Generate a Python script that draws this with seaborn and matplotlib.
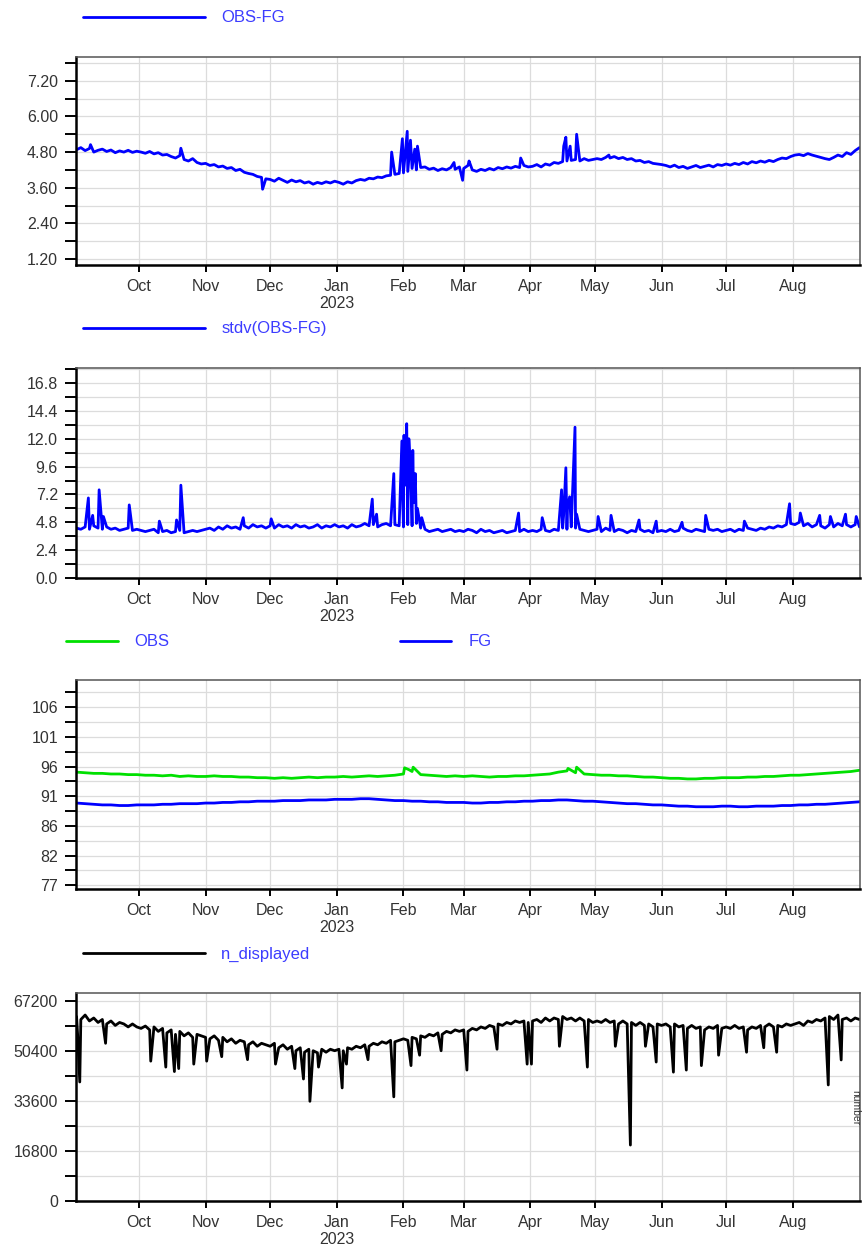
import numpy as np
import pandas as pd
import matplotlib
matplotlib.use("Agg")
import matplotlib.pyplot as plt
import matplotlib.ticker as mticker
import seaborn as sns

# ── DATA (2-day / 4-day sampling plus spikes) ──────────────────────────────
grid2 = pd.date_range("2022-09-02", periods=183, freq="2D")
grid4 = pd.date_range("2022-09-02", periods=92, freq="4D")

omb_mean = [
    4.88, 4.95, 4.85, 4.92, 4.80, 4.86, 4.90, 4.82, 4.87, 4.78, 4.84, 4.80, 4.86, 4.79, 4.83,
    4.80, 4.76, 4.82, 4.74, 4.78, 4.70, 4.72, 4.65, 4.60, 4.68, 4.55, 4.50, 4.58, 4.45, 4.40,
    4.42, 4.35, 4.38, 4.30, 4.33, 4.25, 4.28, 4.18, 4.22, 4.12, 4.08, 4.05, 3.98, 3.95, 3.90,
    3.88, 3.82, 3.92, 3.85, 3.78, 3.86, 3.80, 3.84, 3.76, 3.80, 3.72, 3.78, 3.74, 3.80, 3.76, 3.82,
    3.78, 3.72, 3.80, 3.76, 3.84, 3.88, 3.85, 3.92, 3.90, 3.96, 3.94, 4.00, 4.02, 4.05, 4.08,
    4.10, 4.15, 4.25, 4.20, 4.28, 4.30, 4.22, 4.26, 4.18, 4.24, 4.20, 4.28, 4.22, 4.30,
    4.25, 4.35, 4.20, 4.15, 4.22, 4.18, 4.25, 4.20, 4.28, 4.24, 4.30, 4.26, 4.32, 4.28, 4.35, 4.30,
    4.32, 4.38, 4.30, 4.40, 4.36, 4.45, 4.42, 4.48, 4.50, 4.52, 4.55, 4.50, 4.58, 4.52, 4.55,
    4.58, 4.55, 4.62, 4.60, 4.65, 4.58, 4.62, 4.55, 4.58, 4.50, 4.52, 4.45, 4.48, 4.42, 4.40,
    4.38, 4.35, 4.30, 4.36, 4.28, 4.32, 4.25, 4.30, 4.35, 4.28, 4.32, 4.36, 4.30, 4.38, 4.35,
    4.40, 4.36, 4.42, 4.38, 4.45, 4.40, 4.48, 4.44, 4.50, 4.46, 4.52, 4.48, 4.55, 4.60, 4.58, 4.65,
    4.70, 4.72, 4.68, 4.75, 4.70, 4.66, 4.62, 4.58, 4.55, 4.62, 4.70, 4.65, 4.78, 4.72, 4.85,
    4.95,
]
omb_spike_dates = [
    "2022-09-08 12:00", "2022-10-20 12:00", "2022-11-27 12:00", "2023-01-26 12:00",
    "2023-01-31 12:00", "2023-02-02 06:00", "2023-02-02 18:00", "2023-02-04 06:00",
    "2023-02-06 06:00", "2023-02-07 12:00", "2023-02-24 12:00", "2023-02-28 12:00",
    "2023-03-03 12:00", "2023-03-27 12:00", "2023-04-16 12:00", "2023-04-17 12:00",
    "2023-04-19 12:00", "2023-04-22 12:00", "2023-05-07 12:00",
]
omb_spike_vals = [
    5.05, 4.93, 3.55, 4.80,
    5.25, 5.10, 5.50, 5.20,
    4.90, 5.00, 4.45, 3.85,
    4.50, 4.60, 5.00, 5.30,
    5.00, 5.40, 4.70,
]

omb_std = [
    4.3, 4.2, 4.4, 4.2, 4.5, 4.3, 4.2, 4.4, 4.2, 4.3, 4.1, 4.2, 4.3, 4.1, 4.2,
    4.1, 4.0, 4.1, 4.2, 3.9, 4.0, 4.1, 3.9, 4.0, 4.1, 3.9, 4.0, 4.1, 4.0, 4.1,
    4.2, 4.3, 4.1, 4.4, 4.2, 4.5, 4.3, 4.4, 4.2, 4.5, 4.3, 4.6, 4.4, 4.5, 4.3,
    4.5, 4.3, 4.6, 4.4, 4.5, 4.3, 4.6, 4.4, 4.5, 4.3, 4.4, 4.6, 4.3, 4.5, 4.4, 4.6,
    4.4, 4.5, 4.3, 4.6, 4.4, 4.5, 4.7, 4.5, 4.6, 4.4, 4.6, 4.7, 4.5, 4.6, 4.5,
    4.4, 4.6, 4.5, 4.7, 4.3, 4.2, 4.0, 4.1, 4.2, 4.0, 4.1, 4.2, 4.0, 4.1,
    4.0, 4.2, 4.1, 3.9, 4.2, 4.0, 4.1, 3.9, 4.0, 4.1, 3.9, 4.0, 4.1, 4.0, 4.2, 4.0,
    4.1, 4.0, 4.2, 4.1, 4.0, 4.2, 4.1, 4.3, 4.2, 4.4, 4.3, 4.2, 4.1, 4.0, 4.1,
    4.2, 4.0, 4.3, 4.1, 4.0, 4.2, 4.1, 3.9, 4.1, 4.0, 4.2, 4.0, 4.1, 3.9, 4.0,
    4.1, 4.0, 4.2, 4.0, 4.1, 4.3, 4.1, 4.0, 4.2, 4.1, 4.0, 4.2, 4.1, 4.2, 4.0,
    4.1, 4.2, 4.0, 4.2, 4.1, 4.3, 4.2, 4.1, 4.3, 4.2, 4.4, 4.3, 4.5, 4.4, 4.6, 4.7,
    4.6, 4.8, 4.5, 4.7, 4.4, 4.6, 4.5, 4.3, 4.6, 4.4, 4.7, 4.5, 4.6, 4.4, 4.6,
    4.4,
]
std_spike_dates = [
    "2022-09-07 12:00", "2022-09-09 12:00", "2022-09-12 12:00", "2022-09-14 12:00",
    "2022-09-26 12:00", "2022-10-10 12:00", "2022-10-18 12:00", "2022-10-20 12:00",
    "2022-11-18 12:00", "2022-12-01 12:00", "2023-01-17 12:00", "2023-01-19 12:00",
    "2023-01-27 12:00", "2023-01-31 06:00", "2023-01-31 18:00", "2023-02-01 06:00",
    "2023-02-01 18:00", "2023-02-02 12:00", "2023-02-03 12:00", "2023-02-04 06:00",
    "2023-02-05 08:00", "2023-02-05 18:00", "2023-02-06 12:00", "2023-02-07 12:00",
    "2023-02-09 12:00", "2023-03-26 12:00", "2023-04-06 12:00", "2023-04-15 12:00",
    "2023-04-16 12:00", "2023-04-17 12:00", "2023-04-18 06:00", "2023-04-19 06:00",
    "2023-04-21 18:00", "2023-04-22 12:00", "2023-05-02 12:00", "2023-05-08 12:00",
    "2023-05-21 12:00", "2023-05-29 12:00", "2023-06-10 12:00", "2023-06-21 12:00",
    "2023-07-09 12:00", "2023-07-30 12:00", "2023-08-04 12:00", "2023-08-13 12:00",
    "2023-08-18 12:00", "2023-08-25 12:00", "2023-08-30 12:00",
]
std_spike_vals = [
    6.9, 5.4, 7.6, 5.3,
    6.3, 4.9, 5.0, 8.0,
    5.2, 5.1, 6.8, 5.5,
    9.0, 11.8, 6.0, 12.3,
    8.0, 13.3, 12.0, 9.5,
    11.0, 6.5, 9.0, 6.0,
    5.2, 5.6, 5.2, 7.6,
    5.5, 9.5, 6.0, 7.0,
    13.0, 5.5, 5.3, 5.4,
    5.0, 4.9, 4.8, 5.4,
    4.9, 6.4, 5.6, 5.4,
    5.3, 5.5, 5.3,
]

obs_mean = [
    95.1, 95.0, 94.9, 94.9, 94.8, 94.8, 94.7, 94.7,
    94.6, 94.6, 94.5, 94.6, 94.4, 94.5, 94.4,
    94.4, 94.5, 94.4, 94.4, 94.3, 94.3, 94.2, 94.2,
    94.1, 94.2, 94.1, 94.2, 94.3, 94.2, 94.3, 94.3,
    94.4, 94.3, 94.4, 94.5, 94.4, 94.5, 94.6,
    94.8, 95.2, 94.7, 94.6, 94.5, 94.4, 94.5,
    94.4, 94.5, 94.4, 94.3, 94.4, 94.4, 94.5, 94.5,
    94.6, 94.7, 94.8, 95.1, 95.3, 95.0, 94.8, 94.7,
    94.6, 94.6, 94.5, 94.5, 94.4, 94.3, 94.3,
    94.2, 94.1, 94.1, 94.0, 94.0, 94.1, 94.1, 94.2,
    94.2, 94.2, 94.3, 94.3, 94.4, 94.4, 94.5, 94.6,
    94.6, 94.7, 94.8, 94.9, 95.0, 95.1, 95.2,
    95.4,
]
obs_spike_dates = ["2023-02-01 12:00", "2023-02-03 12:00", "2023-02-05 12:00",
                   "2023-04-18 12:00", "2023-04-22 12:00"]
obs_spike_vals = [95.8, 95.5, 95.9, 95.7, 95.9]

fg_mean = [
    90.1, 90.0, 89.9, 89.8, 89.8, 89.7, 89.7, 89.8,
    89.8, 89.8, 89.9, 89.9, 90.0, 90.0, 90.0,
    90.1, 90.1, 90.2, 90.2, 90.3, 90.3, 90.4, 90.4,
    90.4, 90.5, 90.5, 90.5, 90.6, 90.6, 90.6, 90.7,
    90.7, 90.7, 90.8, 90.8, 90.7, 90.6, 90.5,
    90.5, 90.4, 90.4, 90.3, 90.3, 90.2, 90.2,
    90.2, 90.1, 90.1, 90.2, 90.2, 90.3, 90.3, 90.4,
    90.4, 90.5, 90.5, 90.6, 90.6, 90.5, 90.4, 90.4,
    90.3, 90.2, 90.1, 90.0, 90.0, 89.9, 89.8,
    89.8, 89.7, 89.6, 89.6, 89.5, 89.5, 89.5, 89.6,
    89.6, 89.5, 89.5, 89.6, 89.6, 89.6, 89.7, 89.7,
    89.8, 89.8, 89.9, 89.9, 90.0, 90.1, 90.2,
    90.3,
]

n_displayed = [
    62000, 61000, 62500, 60500, 61500, 60000, 61000, 59500, 60500, 59000, 60000, 59500, 58500, 59500, 58500,
    58000, 58800, 57500, 58500, 57000, 58000, 56500, 57500, 56000, 57000, 55500, 56500, 55000, 56000, 55500,
    55000, 54500, 55500, 54000, 55000, 53500, 54500, 53000, 54000, 53500, 52500, 53500, 52000, 53000, 52500,
    52000, 53000, 51500, 52500, 51000, 52000, 50500, 51500, 50000, 51000, 50500, 49800, 51000, 50000, 51000, 50500,
    51000, 50500, 51500, 51000, 52000, 51500, 52500, 52000, 53000, 52500, 53500, 53000, 54000, 53500, 54000,
    54500, 54000, 55000, 54500, 55500, 55000, 56000, 55500, 56500, 56000, 57000, 56500, 57500, 57000,
    57500, 57000, 58000, 57500, 58500, 58000, 59000, 58500, 59500, 59000, 60000, 59500, 60500, 60000, 60500, 60000,
    60500, 61000, 60000, 61500, 60500, 61500, 61000, 62000, 61000, 61500, 60500, 61500, 60500, 61000, 60000,
    60500, 60000, 61000, 60000, 60500, 59500, 60500, 59500, 60000, 59000, 60000, 59000, 59500, 58500, 59500,
    59000, 59500, 58500, 59500, 58500, 59000, 58000, 59000, 58000, 58500, 57500, 58500, 58000, 59000, 58000,
    58500, 58000, 59000, 58000, 58500, 57500, 58500, 58000, 59000, 58500, 59500, 58500, 59000, 58500, 59500, 59000,
    59500, 60000, 59000, 60500, 60000, 61000, 60500, 61500, 62000, 61000, 62500, 61000, 61500, 60500, 61500,
    61000,
]
n_dip_dates = [
    "2022-09-02 12:00", "2022-09-03 12:00", "2022-09-15 12:00", "2022-10-06 12:00",
    "2022-10-13 12:00", "2022-10-17 12:00", "2022-10-19 12:00", "2022-10-26 12:00",
    "2022-11-01 12:00", "2022-11-08 12:00", "2022-11-20 12:00", "2022-12-03 12:00",
    "2022-12-12 12:00", "2022-12-16 12:00", "2022-12-19 12:00", "2022-12-23 12:00",
    "2023-01-03 12:00", "2023-01-05 12:00", "2023-01-15 12:00", "2023-01-27 12:00",
    "2023-02-04 12:00", "2023-02-08 12:00", "2023-02-18 12:00", "2023-03-02 12:00",
    "2023-03-16 12:00", "2023-03-30 12:00", "2023-04-01 12:00", "2023-04-14 12:00",
    "2023-04-27 12:00", "2023-05-10 12:00", "2023-05-17 12:00", "2023-05-24 12:00",
    "2023-05-29 12:00", "2023-06-06 12:00", "2023-06-12 12:00", "2023-06-19 12:00",
    "2023-06-27 12:00", "2023-07-10 12:00", "2023-07-18 12:00", "2023-07-24 12:00",
    "2023-08-17 12:00", "2023-08-23 12:00",
]
n_dip_vals = [
    56000, 40000, 53000, 47000,
    45000, 43500, 44500, 46000,
    47000, 48500, 47500, 46000,
    44500, 41000, 33500, 45000,
    38000, 46000, 47500, 35000,
    45500, 49000, 50500, 44000,
    51000, 46000, 46000, 52000,
    45000, 52000, 18800, 52000,
    46700, 43300, 44000, 45500,
    49000, 50000, 51500, 50000,
    39000, 47400,
]

month_ticks = pd.to_datetime(["2022-10-01", "2022-11-01", "2022-12-01", "2023-01-01",
                              "2023-02-01", "2023-03-01", "2023-04-01", "2023-05-01",
                              "2023-06-01", "2023-07-01", "2023-08-01"])
month_labels = ["Oct", "Nov", "Dec", "Jan\n2023", "Feb", "Mar", "Apr", "May",
                "Jun", "Jul", "Aug"]


def frame(dates, vals, extra_dates=(), extra_vals=()):
    d = list(dates) + list(pd.to_datetime(list(extra_dates)))
    v = list(vals) + list(extra_vals)
    return pd.DataFrame({"date": d, "value": v}).sort_values("date")


# ── STYLE ──────────────────────────────────────────────────────────────────
sns.set_theme(style="white")
plt.rcParams["font.family"] = ["Liberation Sans", "DejaVu Sans"]

BLUE = "#0000ff"
GREEN = "#00e000"
LEGEND_TXT = "#3c3cff"
GRID = "#dcdcdc"
LW = 2.0

fig = plt.figure(figsize=(8.66, 12.47), dpi=100)
L, W = 76 / 866, 784 / 866
boxes = [(57, 265), (368, 578), (680, 889), (993, 1201)]
axes = [fig.add_axes([L, 1 - b / 1247, W, (b - t) / 1247]) for t, b in boxes]


def style(ax, ylim, major, minor, fmt):
    ax.set_xlim(pd.Timestamp("2022-09-01 18:00"), pd.Timestamp("2023-09-01 06:00"))
    ax.set_ylim(*ylim)
    ax.yaxis.set_major_locator(mticker.MultipleLocator(major))
    ax.yaxis.set_minor_locator(mticker.MultipleLocator(minor))
    ax.yaxis.set_major_formatter(mticker.FormatStrFormatter(fmt))
    ax.set_xticks(month_ticks)
    ax.set_xticklabels(month_labels)
    ax.xaxis.set_minor_locator(mticker.NullLocator())
    ax.set_axisbelow(True)
    ax.grid(True, axis="y", which="both", color=GRID, lw=0.9)
    ax.grid(True, axis="x", which="major", color=GRID, lw=0.9)
    ax.tick_params(axis="y", which="both", direction="out", length=8, width=1.4,
                   color="black", labelsize=11.5, labelcolor="#333333", pad=5, left=True)
    ax.tick_params(axis="x", which="major", direction="out", length=5, width=1.4,
                   color="black", labelsize=11.5, labelcolor="#333333", pad=5, bottom=True)
    for s in ("left", "bottom"):
        ax.spines[s].set_color("black")
        ax.spines[s].set_linewidth(1.8)
    for s in ("top", "right"):
        ax.spines[s].set_color("#555555")
        ax.spines[s].set_linewidth(1.1)
    ax.set_xlabel("")
    ax.set_ylabel("")


def legend(ax, line, label, x, y, hl=7.3):
    leg = ax.legend(handles=[line], labels=[label], loc="center left",
                    bbox_to_anchor=(x, y), frameon=False, fontsize=12,
                    handlelength=hl, handletextpad=1.0, borderpad=0,
                    borderaxespad=0, labelcolor=LEGEND_TXT)
    return leg


# Panel 1: OBS-FG
ax = axes[0]
df = frame(grid2, omb_mean, omb_spike_dates, omb_spike_vals)
sns.lineplot(data=df, x="date", y="value", ax=ax, color=BLUE, lw=LW, estimator=None)
style(ax, (1.0, 8.0), 1.2, 0.6, "%.2f")
legend(ax, ax.get_lines()[0], "OBS-FG", 0.009, 1.1875)

# Panel 2: stdv(OBS-FG)
ax = axes[1]
df = frame(grid2, omb_std, std_spike_dates, std_spike_vals)
sns.lineplot(data=df, x="date", y="value", ax=ax, color=BLUE, lw=LW, estimator=None)
style(ax, (0.0, 18.1), 2.4, 1.2, "%.1f")
legend(ax, ax.get_lines()[0], "stdv(OBS-FG)", 0.009, 1.186)

# Panel 3: OBS and FG
ax = axes[2]
df_o = frame(grid4, obs_mean, obs_spike_dates, obs_spike_vals)
df_f = frame(grid4, fg_mean)
sns.lineplot(data=df_o, x="date", y="value", ax=ax, color=GREEN, lw=LW, estimator=None)
sns.lineplot(data=df_f, x="date", y="value", ax=ax, color=BLUE, lw=LW, estimator=None)
style(ax, (76.2, 110.0), 4.8, 2.4, "%.0f")
lines = ax.get_lines()
leg1 = legend(ax, lines[0], "OBS", -0.0128, 1.182, hl=3.1)
ax.add_artist(leg1)
legend(ax, lines[1], "FG", 0.413, 1.182, hl=3.1)

# Panel 4: n_displayed
ax = axes[3]
df = frame(grid2, n_displayed, n_dip_dates, n_dip_vals)
sns.lineplot(data=df, x="date", y="value", ax=ax, color="black", lw=LW, estimator=None)
style(ax, (0, 69900), 16800, 8400, "%d")
legend(ax, ax.get_lines()[0], "n_displayed", 0.009, 1.1875)

fig.text(855 / 866, 1 - 1108 / 1247, "number", rotation=270, fontsize=7.5,
         color="#333333", ha="center", va="center")

fig.savefig("out.png", dpi=100)
